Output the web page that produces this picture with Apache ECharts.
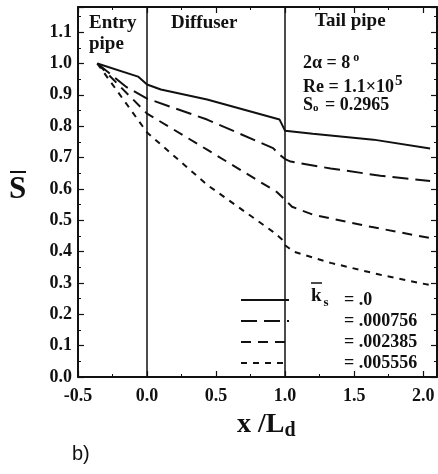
<!DOCTYPE html>
<html lang="en">
<head>
    <meta charset="UTF-8">
    <title>S vs x/Ld</title>
    <script src="https://cdn.jsdelivr.net/npm/echarts@6/dist/echarts.min.js"></script>
    <style>
        html, body { margin: 0; padding: 0; background: #fff; }
    </style>
</head>
<body>
<div id="echarts" style="width: 438px;height:474px"></div>
<script>
    // ks values (legend labels)
    var ksNames = ['.0', '.000756', '.002385', '.005556'];

    // ks = .0 (solid)
    var x0 = [-0.36, -0.065, 0.0, 0.1, 0.435, 0.96, 1.0, 1.2, 1.64, 2.05];
    var y0 = [1.0, 0.958, 0.933, 0.917, 0.885, 0.821, 0.785, 0.776, 0.757, 0.729];
    // ks = .000756
    var x1 = [-0.36, -0.15, 0.0, 0.435, 0.913, 0.96, 1.0, 1.04, 1.33, 1.69, 2.05];
    var y1 = [1.0, 0.925, 0.888, 0.821, 0.73, 0.709, 0.695, 0.687, 0.665, 0.642, 0.625];
    // ks = .002385
    var x2 = [-0.36, 0.0, 0.435, 0.94, 1.0, 1.05, 1.2, 1.62, 2.05];
    var y2 = [1.0, 0.84, 0.725, 0.59, 0.565, 0.543, 0.518, 0.479, 0.443];
    // ks = .005556
    var x3 = [-0.36, 0.0, 0.435, 0.913, 0.98, 1.0, 1.06, 1.33, 1.69, 2.05];
    var y3 = [1.0, 0.78, 0.613, 0.463, 0.438, 0.42, 0.40, 0.364, 0.326, 0.293];

    // section borders (entry pipe / diffuser / tail pipe)
    var sections = [0.0, 1.0];

    var xTicks = [-0.5, 0.0, 0.5, 1.0, 1.5, 2.0];
    var yTicks = [0.0, 0.1, 0.2, 0.3, 0.4, 0.5, 0.6, 0.7, 0.8, 0.9, 1.0, 1.1];

    function pairs(xs, ys) {
        return xs.map(function (x, i) { return [x, ys[i]]; });
    }

    var serif = 'Liberation Serif';
    var black = '#111';
    var dashes = ['solid', [16, 7], [10, 7], [6, 6]];
    var xsAll = [x0, x1, x2, x3];
    var ysAll = [y0, y1, y2, y3];

    var chartDom = document.getElementById('echarts');
    var myChart = echarts.init(chartDom);
    var option;

    function tickLabel(list) {
        return function (v) {
            for (var i = 0; i < list.length; i++) {
                if (Math.abs(list[i] - v) < 1e-6) return v.toFixed(1);
            }
            return '';
        };
    }

    function axisCommon() {
        return {
            axisLine: {show: true, onZero: false, lineStyle: {color: black, width: 2}},
            axisTick: {show: true, inside: true, length: 6, lineStyle: {color: black, width: 1.2}},
            minorTick: {show: true, splitNumber: 2, length: 3, lineStyle: {color: black, width: 1}},
            splitLine: {show: false},
            minorSplitLine: {show: false}
        };
    }

    var series = ksNames.map(function (name, i) {
        var s = {
            name: name,
            type: 'line',
            symbol: 'none',
            xAxisIndex: 0,
            yAxisIndex: 0,
            lineStyle: {color: black, width: 2, type: dashes[i]},
            itemStyle: {color: black},
            data: pairs(xsAll[i], ysAll[i]),
            animation: false
        };
        if (i === 0) {
            s.markLine = {
                silent: true,
                symbol: 'none',
                label: {show: false},
                lineStyle: {color: black, width: 1.5, type: 'solid'},
                data: sections.map(function (v) { return {xAxis: v}; })
            };
        }
        return s;
    });

    option = {
        animation: false,
        backgroundColor: '#fff',
        grid: {left: 78, right: 1, top: 7, bottom: 97, outerBoundsMode: 'none', containLabel: false},
        xAxis: [
            Object.assign({
                type: 'value', position: 'bottom',
                min: -0.5, max: 2.1, interval: 0.5,
                axisLabel: {
                    formatter: tickLabel(xTicks), showMaxLabel: false,
                    fontFamily: serif, fontWeight: 'bold', fontSize: 18, color: black, margin: 10
                }
            }, axisCommon()),
            Object.assign({
                type: 'value', position: 'top',
                min: -0.5, max: 2.1, interval: 0.5,
                axisLabel: {show: false}
            }, axisCommon())
        ],
        yAxis: [
            Object.assign({
                type: 'value', position: 'left',
                min: 0, max: 1.18, interval: 0.1,
                axisLabel: {
                    formatter: tickLabel(yTicks), showMaxLabel: false,
                    fontFamily: serif, fontWeight: 'bold', fontSize: 18, color: black, margin: 6
                }
            }, axisCommon()),
            Object.assign({
                type: 'value', position: 'right',
                min: 0, max: 1.18, interval: 0.1,
                axisLabel: {show: false}
            }, axisCommon())
        ],
        legend: {
            orient: 'vertical',
            left: 235,
            top: 286,
            itemWidth: 48,
            itemHeight: 12,
            itemGap: 3,
            selectedMode: false,
            data: ksNames,
            itemStyle: {opacity: 0},
            formatter: function (name) {
                return '{g|}{v|= ' + name + '}';
            },
            textStyle: {
                fontFamily: serif, fontWeight: 'bold', fontSize: 18, color: black,
                rich: {
                    g: {width: 50},
                    v: {fontFamily: serif, fontWeight: 'bold', fontSize: 18, color: black}
                }
            }
        },
        graphic: [
            {type: 'text', left: 89, top: 14, style: {text: 'Entry', font: 'bold 19px "Liberation Serif"', fill: black}},
            {type: 'text', left: 89, top: 35, style: {text: 'pipe', font: 'bold 19px "Liberation Serif"', fill: black}},
            {type: 'text', left: 171, top: 14, style: {text: 'Diffuser', font: 'bold 19px "Liberation Serif"', fill: black}},
            {type: 'text', left: 315, top: 12, style: {text: 'Tail pipe', font: 'bold 19px "Liberation Serif"', fill: black}},
            {type: 'text', left: 303, top: 52, style: {
                text: '2α = 8{sup|o}', font: 'bold 18px "Liberation Serif"', fill: black,
                rich: {sup: {font: 'bold 12px "Liberation Serif"', fill: black, verticalAlign: 'top', padding: [0, 0, 10, 3]}}
            }},
            {type: 'text', left: 303, top: 74, style: {
                text: 'Re = 1.1×10{sup|5}', font: 'bold 18px "Liberation Serif"', fill: black,
                rich: {sup: {font: 'bold 15px "Liberation Serif"', fill: black, verticalAlign: 'top', padding: [0, 0, 12, 1]}}
            }},
            {type: 'text', left: 303, top: 96, style: {
                text: 'S{sub|o} = 0.2965', font: 'bold 18px "Liberation Serif"', fill: black,
                rich: {sub: {font: 'bold 11px "Liberation Serif"', fill: black, verticalAlign: 'bottom', padding: [5, 2, 0, 0]}}
            }},
            // y-axis title S with overbar
            {type: 'text', left: 9, top: 174, style: {text: 'S', font: 'bold 31px "Liberation Serif"', fill: black}},
            {type: 'line', shape: {x1: 10, y1: 172, x2: 26, y2: 172}, style: {stroke: black, lineWidth: 2}},
            // x-axis title
            {type: 'text', left: 237, top: 411, style: {
                text: 'x /L{sub|d}', font: 'bold 28px "Liberation Serif"', fill: black,
                rich: {sub: {font: 'bold 20px "Liberation Serif"', fill: black, padding: [12, 0, 0, 0]}}
            }},
            // ks label with overbar
            {type: 'text', left: 311, top: 287, style: {
                text: 'k{sub|s}', font: 'bold 19px "Liberation Serif"', fill: black,
                rich: {sub: {font: 'bold 13px "Liberation Serif"', fill: black, padding: [12, 0, 0, 2]}}
            }},
            {type: 'line', shape: {x1: 311, y1: 283, x2: 322, y2: 283}, style: {stroke: black, lineWidth: 1.5}},
            {type: 'text', left: 72, top: 444, style: {text: 'b)', font: '20px "Liberation Sans"', fill: black}}
        ],
        series: series
    };

    option && myChart.setOption(option);
</script>
</body>
</html>
